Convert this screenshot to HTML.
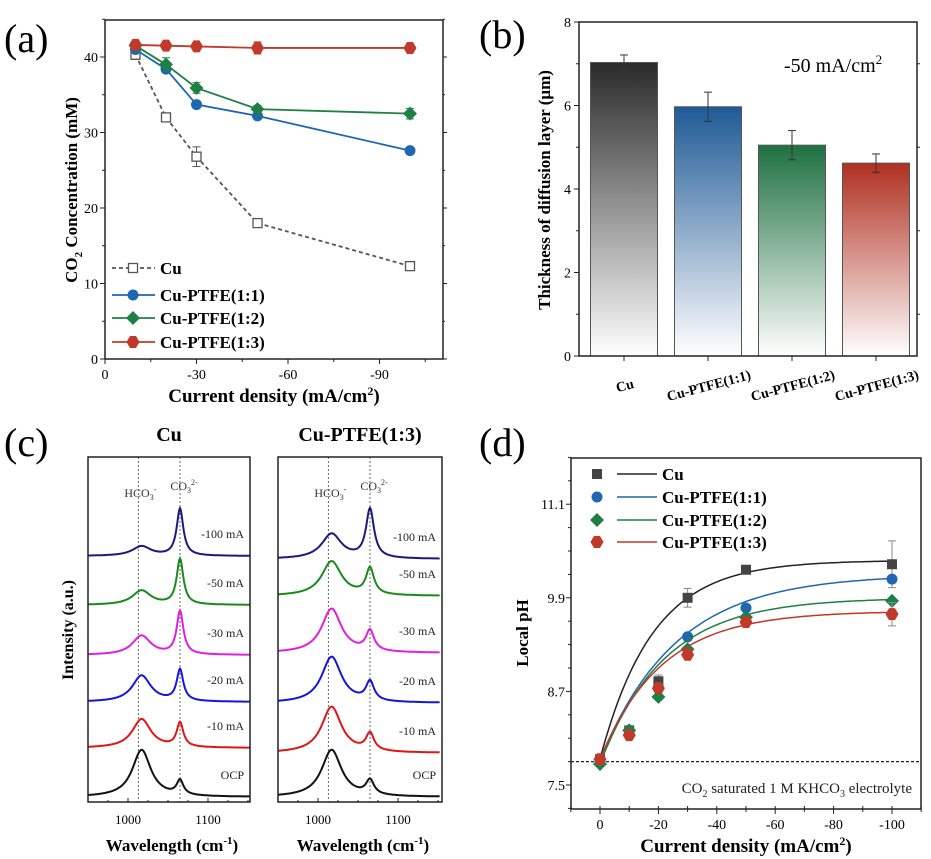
<!DOCTYPE html>
<html><head><meta charset="utf-8">
<style>
html,body{margin:0;padding:0;background:#fff;}
svg{display:block;font-family:"Liberation Serif",serif;}
.b{font-weight:bold;}
</style></head>
<body>
<svg id="fig" width="931" height="859" viewBox="0 0 931 859" xmlns="http://www.w3.org/2000/svg">
<defs>
<linearGradient id="gCu" x1="0" y1="0" x2="0" y2="1"><stop offset="0" stop-color="#2a2a2a"/><stop offset="1" stop-color="#ffffff"/></linearGradient>
<linearGradient id="gB" x1="0" y1="0" x2="0" y2="1"><stop offset="0" stop-color="#1f5a96"/><stop offset="1" stop-color="#ffffff"/></linearGradient>
<linearGradient id="gG" x1="0" y1="0" x2="0" y2="1"><stop offset="0" stop-color="#1e7040"/><stop offset="1" stop-color="#ffffff"/></linearGradient>
<linearGradient id="gR" x1="0" y1="0" x2="0" y2="1"><stop offset="0" stop-color="#b03020"/><stop offset="1" stop-color="#ffffff"/></linearGradient>
</defs>
<g id="pa"></g>
<g id="pb"></g>
<g id="pc"></g>
<g id="pd"></g>
</svg>
<script>
// ---- Panel (a) data ----
const aX = [-10, -20, -30, -50, -100];
const aCu = [40.3, 32.0, 26.8, 18.0, 12.3];
const aCuErr = [0.6, 0.4, 1.3, 0.4, 0.4];
const aP11 = [41.0, 38.4, 33.7, 32.2, 27.6];
const aP12 = [41.5, 39.0, 35.9, 33.1, 32.5];
const aP12Err = [0.4, 0.9, 0.7, 0.5, 0.7];
const aP13 = [41.6, 41.5, 41.4, 41.2, 41.2];
const aP13Err = [0.3, 0.3, 0.3, 0.8, 0.3];
const aXTicks = [0, -30, -60, -90];
const aYTicks = [0, 10, 20, 30, 40];
// ---- Panel (b) data ----
const bCats = ["Cu", "Cu-PTFE(1:1)", "Cu-PTFE(1:2)", "Cu-PTFE(1:3)"];
const bVals = [7.03, 5.97, 5.05, 4.62];
const bErr = [0.18, 0.35, 0.35, 0.22];
const bYTicks = [0, 2, 4, 6, 8];
// ---- Panel (c) data (peak heights in relative units) ----
const cLabels = ["-100 mA", "-50 mA", "-30 mA", "-20 mA", "-10 mA", "OCP"];
const cColors = ["#1a1a80", "#1a8a1a", "#e020e0", "#1515e0", "#e01515", "#111111"];
const cCuHco3 = [0.2, 0.3, 0.4, 0.55, 0.6, 0.98];
const cCuCo3 = [0.98, 0.95, 0.9, 0.65, 0.5, 0.3];
const cPtHco3 = [0.52, 0.72, 0.92, 0.96, 0.96, 0.98];
const cPtCo3 = [1.02, 0.55, 0.42, 0.4, 0.36, 0.3];
const cXTicks = [1000, 1100];
// ---- Panel (d) data ----
const dX = [0, -10, -20, -30, -50, -100];
const dCu = [7.83, 8.2, 8.83, 9.9, 10.26, 10.33];
const dP11 = [7.82, 8.2, 8.75, 9.4, 9.77, 10.14];
const dP12 = [7.77, 8.2, 8.63, 9.24, 9.65, 9.86];
const dP13 = [7.83, 8.14, 8.74, 9.17, 9.59, 9.69];
const dFitPlateau = [10.38, 10.2, 9.9, 9.73];
const dFitTau = [18, 26, 22, 21];
const dYTicks = [7.5, 8.7, 9.9, 11.1];
const dXTicks = [0, -20, -40, -60, -80, -100];

const NS = "http://www.w3.org/2000/svg";
function mk(parent, tag, attrs, text) {
  const e = document.createElementNS(NS, tag);
  for (const k in attrs) e.setAttribute(k, attrs[k]);
  if (text !== undefined) e.textContent = text;
  parent.appendChild(e);
  return e;
}

// ================= Panel (a) =================
(function(){
  const g = document.getElementById('pa');
  const X0 = 105, X1 = 443, Y0 = 359, Y1 = 20;
  const sx = v => X0 + (-v) * (91.5 / 30);
  const sy = v => Y0 - v * (302 / 40);
  let t = mk(g, 'text', {x: 4, y: 52, 'font-size': 40}, '(a)');
   
  let fr = mk(g, 'rect', {x: X0, y: Y1, width: X1 - X0, height: Y0 - Y1, fill: 'none', stroke: '#222', 'stroke-width': 1.5});
   
  for (let v = 0; v <= 45; v += 5) {
    const big = aYTicks.includes(v);
    mk(g, 'line', {x1: X0 - (big ? 5 : 3), x2: X0, y1: sy(v), y2: sy(v), stroke: '#222'});
    mk(g, 'line', {x1: X1, x2: X1 + (big ? 4 : 2), y1: sy(v), y2: sy(v), stroke: '#222'});
  }
  aYTicks.forEach(v => {
    const e = mk(g, 'text', {x: X0 - 7, y: sy(v) + 5, 'font-size': 14, 'text-anchor': 'end'}, v);
     
  });
  for (let v = 0; v >= -105; v -= 15) {
    const big = aXTicks.includes(v);
    mk(g, 'line', {x1: sx(v), x2: sx(v), y1: Y0, y2: Y0 + (big ? 5 : 3), stroke: '#222'});
  }
  aXTicks.forEach(v => {
    const e = mk(g, 'text', {x: sx(v), y: Y0 + 20, 'font-size': 14, 'text-anchor': 'middle'}, v);
     
  });
  t = mk(g, 'text', {x: 274, y: 402, 'font-size': 19, 'text-anchor': 'middle', class: 'b'});
  t.innerHTML = 'Current density (mA/cm<tspan dy="-7" font-size="12">2</tspan><tspan dy="7">)</tspan>';
   
  t = mk(g, 'text', {transform: 'translate(77,190) rotate(-90)', 'font-size': 17, 'text-anchor': 'middle', class: 'b'});
  t.innerHTML = 'CO<tspan dy="5" font-size="11">2</tspan><tspan dy="-5"> Concentration (mM)</tspan>';
   

  function marker(gg, type, x, y, color) {
    let m;
    if (type === 'sq') m = mk(gg, 'rect', {x: x - 4.5, y: y - 4.5, width: 9, height: 9, fill: '#fff', stroke: '#555', 'stroke-width': 1.3});
    else if (type === 'ci') m = mk(gg, 'circle', {cx: x, cy: y, r: 5.5, fill: color});
    else if (type === 'di') m = mk(gg, 'path', {d: `M${x},${y-7}L${x+7},${y}L${x},${y+7}L${x-7},${y}Z`, fill: color});
    else m = mk(gg, 'path', {d: `M${x-3},${y-6}L${x+3},${y-6}L${x+6.5},${y}L${x+3},${y+6}L${x-3},${y+6}L${x-6.5},${y}Z`, fill: color});
     
  }
  const series = [
    {name: 'Cu', vals: aCu, err: aCuErr, color: '#555', type: 'sq', dash: '4,3'},
    {name: 'Cu-PTFE(1:1)', vals: aP11, err: [0.3,0.4,0.3,0.3,0.3], color: '#1f67b0', type: 'ci'},
    {name: 'Cu-PTFE(1:2)', vals: aP12, err: aP12Err, color: '#1f8045', type: 'di'},
    {name: 'Cu-PTFE(1:3)', vals: aP13, err: aP13Err, color: '#c0392b', type: 'hx'}
  ];
  series.forEach((s, i) => {
    const sg = mk(g, 'g', {});
    
    
    const pts = aX.map((x, j) => sx(x) + ',' + sy(s.vals[j])).join(' ');
    const pl = mk(sg, 'polyline', {points: pts, fill: 'none', stroke: s.color, 'stroke-width': 1.8});
    if (s.dash) pl.setAttribute('stroke-dasharray', s.dash);
    aX.forEach((x, j) => {
      const cx = sx(x), y1 = sy(s.vals[j] + s.err[j]), y2 = sy(s.vals[j] - s.err[j]);
      mk(sg, 'line', {x1: cx, x2: cx, y1: y1, y2: y2, stroke: s.color});
      mk(sg, 'line', {x1: cx - 4, x2: cx + 4, y1: y1, y2: y1, stroke: s.color});
      mk(sg, 'line', {x1: cx - 4, x2: cx + 4, y1: y2, y2: y2, stroke: s.color});
      marker(sg, s.type, cx, sy(s.vals[j]), s.color);
    });
    const ly = [268, 295, 318, 342][i];
    const le = mk(g, 'g', {});
     
    const ll = mk(le, 'line', {x1: 112, x2: 155, y1: ly, y2: ly, stroke: s.color, 'stroke-width': 1.8});
    if (s.dash) ll.setAttribute('stroke-dasharray', s.dash);
    marker(le, s.type, 133, ly, s.color);
    mk(le, 'text', {x: 160, y: ly + 6, 'font-size': 17, class: 'b'}, s.name);
  });
})();

// ================= Panel (b) =================
(function(){
  const g = document.getElementById('pb');
  const X0 = 579, X1 = 917, Y0 = 356, Y1 = 22;
  const sy = v => Y0 - v * ((Y0 - Y1) / 8);
  const cx = i => 624 + i * 84;
  let t = mk(g, 'text', {x: 479, y: 48, 'font-size': 40}, '(b)');
   
  const fills = ['url(#gCu)', 'url(#gB)', 'url(#gG)', 'url(#gR)'];
  bVals.forEach((v, i) => {
    const r = mk(g, 'rect', {x: cx(i) - 33.5, y: sy(v), width: 67, height: Y0 - sy(v), fill: fills[i], stroke: '#555', 'stroke-width': 1});
    
    
    const y1 = sy(v + bErr[i]), y2 = sy(v - bErr[i]);
    mk(g, 'line', {x1: cx(i), x2: cx(i), y1: y1, y2: y2, stroke: '#333'});
    mk(g, 'line', {x1: cx(i) - 4, x2: cx(i) + 4, y1: y1, y2: y1, stroke: '#333'});
    mk(g, 'line', {x1: cx(i) - 4, x2: cx(i) + 4, y1: y2, y2: y2, stroke: '#333'});
    mk(g, 'line', {x1: cx(i), x2: cx(i), y1: Y0, y2: Y0 + 5, stroke: '#222'});
    const lx = cx(i) + 2, ly = 390;
    const tl = mk(g, 'text', {x: lx, y: ly, 'font-size': 14, 'text-anchor': 'middle', class: 'b', transform: `rotate(-15 ${lx} ${ly})`}, bCats[i]);
     
  });
  const fr = mk(g, 'rect', {x: X0, y: Y1, width: X1 - X0, height: Y0 - Y1, fill: 'none', stroke: '#222', 'stroke-width': 1.5});
   
  for (let v = 0; v <= 8; v += 1) {
    const big = bYTicks.includes(v);
    mk(g, 'line', {x1: X0 - (big ? 5 : 3), x2: X0, y1: sy(v), y2: sy(v), stroke: '#222'});
    mk(g, 'line', {x1: X1, x2: X1 + (big ? 0 : 3), y1: sy(v), y2: sy(v), stroke: '#222'});
  }
  bYTicks.forEach(v => {
    const e = mk(g, 'text', {x: X0 - 8, y: sy(v) + 5, 'font-size': 14, 'text-anchor': 'end'}, v);
     
  });
  t = mk(g, 'text', {transform: 'translate(550,190) rotate(-90)', 'font-size': 17, 'text-anchor': 'middle', class: 'b'}, 'Thickness of diffusion layer (μm)');
   
  t = mk(g, 'text', {x: 784, y: 72, 'font-size': 20});
  t.innerHTML = '-50 mA/cm<tspan dy="-8" font-size="13">2</tspan>';
   
})();

// ================= Panel (c) =================
(function(){
  const g = document.getElementById('pc');
  let t = mk(g, 'text', {x: 4, y: 456, 'font-size': 40}, '(c)');
   
  t = mk(g, 'text', {transform: 'translate(73,630) rotate(-90)', 'font-size': 16, 'text-anchor': 'middle', class: 'b'}, 'Intensity (a.u.)');
   
  const panels = [
    {x0: 88, x1: 250, title: 'Cu', h: cCuHco3, c: cCuCo3, base: [556, 605, 655, 702, 748, 797], scale: 48, w: [14, 5], name: 'cu'},
    {x0: 278, x1: 442, title: 'Cu-PTFE(1:3)', h: cPtHco3, c: cPtCo3, base: [559, 596, 653, 703, 753, 797], scale: 48, w: [15, 6], name: 'cu-ptfe-1-3'}
  ];
  panels.forEach(p => {
    const sx = v => p.x0 + (v - 950) * 0.8;
    const Y0 = 802, Y1 = 457;
    const pg = mk(g, 'g', {});
     
    const tt = mk(pg, 'text', {x: (p.x0 + p.x1) / 2, y: 441, 'font-size': 20, 'text-anchor': 'middle', class: 'b'}, p.title);
     
    [1013, 1065].forEach(v => mk(pg, 'line', {x1: sx(v), x2: sx(v), y1: Y1, y2: Y0, stroke: '#666', 'stroke-dasharray': '2,2'}));
    let e = mk(pg, 'text', {x: sx(1013) + 2, y: 497, 'font-size': 12, 'text-anchor': 'middle', fill: '#333'});
    e.innerHTML = 'HCO<tspan dy="3" font-size="8">3</tspan><tspan dy="-8" font-size="8">-</tspan>';
    e = mk(pg, 'text', {x: sx(1065) + 4, y: 490, 'font-size': 12, 'text-anchor': 'middle', fill: '#333'});
    e.innerHTML = 'CO<tspan dy="3" font-size="8">3</tspan><tspan dy="-8" font-size="8">2-</tspan>';
    cLabels.forEach((lab, i) => {
      let d = '';
      for (let w = 950; w <= 1152; w += 1) {
        const a = p.h[i] / (1 + Math.pow((w - 1017) / p.w[0], 2));
        const b = p.c[i] / (1 + Math.pow((w - 1065) / p.w[1], 2));
        const y = p.base[i] - (a + b) * p.scale;
        d += (w === 950 ? 'M' : 'L') + sx(w).toFixed(1) + ',' + y.toFixed(1);
      }
      const pa = mk(pg, 'path', {d: d, fill: 'none', stroke: cColors[i], 'stroke-width': 2});
      
      
      const tl = mk(pg, 'text', {x: p.x1 - 6, y: p.base[i] - 18, 'font-size': 12, 'text-anchor': 'end', fill: '#222'}, lab);
       
    });
    const fr = mk(pg, 'rect', {x: p.x0, y: Y1, width: p.x1 - p.x0, height: Y0 - Y1, fill: 'none', stroke: '#222', 'stroke-width': 1.5});
     
    for (let v = 950; v <= 1150; v += 25) mk(pg, 'line', {x1: sx(v), x2: sx(v), y1: Y0, y2: Y0 - (cXTicks.includes(v) ? 4 : 2), stroke: '#222'});
    cXTicks.forEach(v => {
      const e2 = mk(pg, 'text', {x: sx(v), y: 824, 'font-size': 13, 'text-anchor': 'middle'}, v);
       
    });
    const xl = mk(pg, 'text', {x: (p.x0 + p.x1) / 2 + 3, y: 851, 'font-size': 17, 'text-anchor': 'middle', class: 'b'});
    xl.innerHTML = 'Wavelength (cm<tspan dy="-7" font-size="11">-1</tspan><tspan dy="7">)</tspan>';
     
  });
})();

// ================= Panel (d) =================
(function(){
  const g = document.getElementById('pd');
  const X0 = 571, X1 = 921, Y0 = 809, Y1 = 458;
  const sx = v => 600 + (-v) * 2.92;
  const sy = v => 785 - (v - 7.5) * 78;
  let t = mk(g, 'text', {x: 479, y: 456, 'font-size': 40}, '(d)');
   
  const fr = mk(g, 'rect', {x: X0, y: Y1, width: X1 - X0, height: Y0 - Y1, fill: 'none', stroke: '#222', 'stroke-width': 1.5});
   
  for (let v = 7.2; v <= 11.9; v += 0.3) {
    const big = dYTicks.some(k => Math.abs(k - v) < 0.01);
    mk(g, 'line', {x1: X0 - (big ? 5 : 3), x2: X0, y1: sy(v), y2: sy(v), stroke: '#222'});
  }
  dYTicks.forEach(v => {
    const e = mk(g, 'text', {x: X0 - 6, y: sy(v) + 5, 'font-size': 14, 'text-anchor': 'end'}, v.toFixed(1));
     
  });
  for (let v = 10; v >= -110; v -= 10) {
    const big = dXTicks.includes(v);
    mk(g, 'line', {x1: sx(v), x2: sx(v), y1: Y0, y2: Y0 + (big ? 5 : 3), stroke: '#222'});
    mk(g, 'line', {x1: sx(v), x2: sx(v), y1: Y0, y2: Y0 - 3, stroke: '#222'});
  }
  dXTicks.forEach(v => {
    const e = mk(g, 'text', {x: sx(v), y: Y0 + 20, 'font-size': 14, 'text-anchor': 'middle'}, v);
     
  });
  t = mk(g, 'text', {x: 746, y: 852, 'font-size': 19, 'text-anchor': 'middle', class: 'b'});
  t.innerHTML = 'Current density (mA/cm<tspan dy="-7" font-size="12">2</tspan><tspan dy="7">)</tspan>';
   
  t = mk(g, 'text', {transform: 'translate(528,633) rotate(-90)', 'font-size': 17, 'text-anchor': 'middle', class: 'b'}, 'Local pH');
   
  const base = mk(g, 'line', {x1: X0, x2: X1, y1: sy(7.8), y2: sy(7.8), stroke: '#222', 'stroke-dasharray': '3,2', 'stroke-width': 1.3});
   
  t = mk(g, 'text', {x: 912, y: 793, 'font-size': 15, 'text-anchor': 'end', fill: '#222'});
  t.innerHTML = 'CO<tspan dy="4" font-size="10">2</tspan><tspan dy="-4"> saturated 1 M KHCO</tspan><tspan dy="4" font-size="10">3</tspan><tspan dy="-4"> electrolyte</tspan>';
   
  const series = [
    {name: 'Cu', vals: dCu, color: '#444', line: '#222', type: 'sq'},
    {name: 'Cu-PTFE(1:1)', vals: dP11, color: '#1f67b0', line: '#1f67b0', type: 'ci'},
    {name: 'Cu-PTFE(1:2)', vals: dP12, color: '#1f8045', line: '#1f8045', type: 'di'},
    {name: 'Cu-PTFE(1:3)', vals: dP13, color: '#c0392b', line: '#c0392b', type: 'hx'}
  ];
  function marker(gg, type, x, y, color) {
    let m;
    if (type === 'sq') m = mk(gg, 'rect', {x: x - 5, y: y - 5, width: 10, height: 10, fill: color});
    else if (type === 'ci') m = mk(gg, 'circle', {cx: x, cy: y, r: 5.5, fill: color});
    else if (type === 'di') m = mk(gg, 'path', {d: `M${x},${y-7}L${x+7},${y}L${x},${y+7}L${x-7},${y}Z`, fill: color});
    else m = mk(gg, 'path', {d: `M${x-3},${y-6}L${x+3},${y-6}L${x+6.5},${y}L${x+3},${y+6}L${x-3},${y+6}L${x-6.5},${y}Z`, fill: color});
     
  }
  const errs = [[0,0,0.08,0.12,0,0.3],[0,0,0,0,0,0],[0,0,0,0,0,0],[0,0,0,0,0,0.15]];
  series.forEach((s, i) => {
    const sg = mk(g, 'g', {});
    
    
    const A = dFitPlateau[i], tau = dFitTau[i], y0 = s.vals[0];
    let d = '';
    for (let x = 0; x >= -100; x -= 1) {
      const y = A - (A - y0) * Math.exp(x / tau);
      d += (x === 0 ? 'M' : 'L') + sx(x).toFixed(1) + ',' + sy(y).toFixed(1);
    }
    const fit = mk(sg, 'path', {d: d, fill: 'none', stroke: s.line, 'stroke-width': 1.5});
     
    dX.forEach((x, j) => {
      const e = errs[i][j];
      if (e > 0) {
        mk(sg, 'line', {x1: sx(x), x2: sx(x), y1: sy(s.vals[j] + e), y2: sy(s.vals[j] - e), stroke: '#888'});
        mk(sg, 'line', {x1: sx(x) - 4, x2: sx(x) + 4, y1: sy(s.vals[j] + e), y2: sy(s.vals[j] + e), stroke: '#888'});
        mk(sg, 'line', {x1: sx(x) - 4, x2: sx(x) + 4, y1: sy(s.vals[j] - e), y2: sy(s.vals[j] - e), stroke: '#888'});
      }
      marker(sg, s.type, sx(x), sy(s.vals[j]), s.color);
    });
    const ly = [474, 497, 520, 542][i];
    const le = mk(g, 'g', {});
     
    marker(le, s.type, 597, ly, s.color);
    mk(le, 'line', {x1: 617, x2: 657, y1: ly, y2: ly, stroke: s.line, 'stroke-width': 1.5});
    mk(le, 'text', {x: 662, y: ly + 6, 'font-size': 17, class: 'b'}, s.name);
  });
})();
</script>
</body></html>
